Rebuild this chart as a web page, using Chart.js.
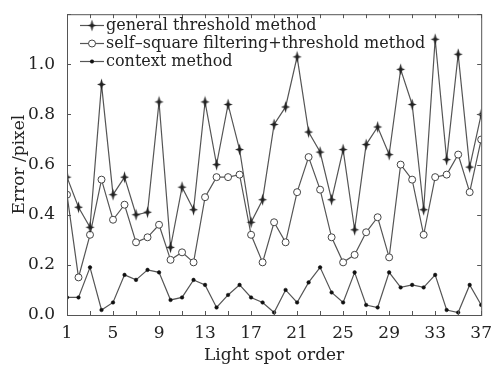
<!DOCTYPE html>
<html>
<head>
<meta charset="utf-8">
<script src="https://cdn.jsdelivr.net/npm/chart.js@4.4.0/dist/chart.umd.min.js"></script>
<style>
html,body{margin:0;padding:0;background:#fff;}
#wrap{width:492px;height:366px;position:relative;}
</style>
</head>
<body>
<div id="wrap"><canvas id="c" width="492" height="366"></canvas></div>
<script>
const spotOrder = Array.from({length: 37}, (_, i) => i + 1);
const generalThreshold = [0.55,0.43,0.35,0.92,0.48,0.55,0.40,0.41,0.85,0.27,0.51,0.42,0.85,0.60,0.84,0.66,0.37,0.46,0.76,0.83,1.03,0.73,0.65,0.46,0.66,0.34,0.68,0.75,0.64,0.98,0.84,0.42,1.10,0.62,1.04,0.59,0.80];
const selfSquare = [0.48,0.15,0.32,0.54,0.38,0.44,0.29,0.31,0.36,0.22,0.25,0.21,0.47,0.55,0.55,0.56,0.32,0.21,0.37,0.29,0.49,0.63,0.50,0.31,0.21,0.24,0.33,0.39,0.23,0.60,0.54,0.32,0.55,0.56,0.64,0.49,0.70];
const contextMethod = [0.07,0.07,0.19,0.02,0.05,0.16,0.14,0.18,0.17,0.06,0.07,0.14,0.12,0.03,0.08,0.12,0.07,0.05,0.01,0.10,0.05,0.13,0.19,0.09,0.05,0.17,0.04,0.03,0.17,0.11,0.12,0.11,0.16,0.02,0.01,0.12,0.04];
const seriesLabels = ["general threshold method","self\u2013square filtering+threshold method","context method"];
const xTickLabels = [1,5,9,13,17,21,25,29,33,37];
const yTickLabels = [0.0,0.2,0.4,0.6,0.8,1.0];

const FONT = "'DejaVu Serif', serif";
const LINE = '#555';

// 4-pointed star marker
function makeStar(){
  const cv = document.createElement('canvas');
  cv.width = 11; cv.height = 13;
  const g = cv.getContext('2d');
  g.fillStyle = '#222';
  g.beginPath();
  const cx = 5.5, cy = 6.5;
  g.moveTo(cx, cy-6); g.lineTo(cx+1.3, cy-1.3); g.lineTo(cx+4.5, cy);
  g.lineTo(cx+1.3, cy+1.3); g.lineTo(cx, cy+6); g.lineTo(cx-1.3, cy+1.3);
  g.lineTo(cx-4.5, cy); g.lineTo(cx-1.3, cy-1.3); g.closePath();
  g.fill();
  return cv;
}
const star = makeStar();

const mk = (data) => spotOrder.map((x, i) => ({x, y: data[i]}));

const frameTicks = {
  id: 'frameTicks',
  afterDraw(chart){
    const {ctx, chartArea: a, scales: {x, y}} = chart;
    ctx.save();
    ctx.strokeStyle = '#555';
    ctx.lineWidth = 1;
    ctx.strokeRect(a.left+0.5, a.top+0.5, a.right-a.left, a.bottom-a.top);
    ctx.beginPath();
    for (let v = 1; v <= 37; v += 2){
      const px = Math.round(x.getPixelForValue(v)) + 0.5;
      ctx.moveTo(px, a.bottom); ctx.lineTo(px, a.bottom-4);
      ctx.moveTo(px, a.top); ctx.lineTo(px, a.top+4);
    }
    for (let v = 0; v <= 1.2001; v += 0.2){
      const py = Math.round(y.getPixelForValue(v)) + 0.5;
      ctx.moveTo(a.left, py); ctx.lineTo(a.left+4, py);
      ctx.moveTo(a.right, py); ctx.lineTo(a.right-4, py);
    }
    ctx.stroke();

    // legend inside plot
    const rows = [25, 43, 61];
    chart.data.datasets.forEach((ds, i) => {
      const yy = rows[i];
      ctx.strokeStyle = LINE; ctx.lineWidth = 1.2;
      ctx.beginPath(); ctx.moveTo(80, yy+0.5); ctx.lineTo(104, yy+0.5); ctx.stroke();
      ctx.fillStyle = ds.pointBackgroundColor;
      ctx.strokeStyle = ds.pointBorderColor;
      ctx.lineWidth = ds.pointBorderWidth;
      Chart.helpers.drawPoint(ctx, {
        pointStyle: ds.pointStyle, radius: ds.pointRadius, rotation: 0, borderWidth: ds.pointBorderWidth
      }, 92, yy+0.5);
      ctx.fillStyle = '#222';
      ctx.font = "16px " + FONT;
      ctx.textBaseline = 'middle';
      ctx.textAlign = 'left';
      ctx.fillText(ds.label, 106, yy+1);
    });
    ctx.restore();
  }
};

new Chart(document.getElementById('c'), {
  type: 'line',
  data: {
    datasets: [
      {label: seriesLabels[0], data: mk(generalThreshold), borderColor: LINE, borderWidth: 1.2,
       pointStyle: star, pointRadius: 5, pointBorderWidth: 1, pointBackgroundColor: '#222', pointBorderColor: '#222'},
      {label: seriesLabels[1], data: mk(selfSquare), borderColor: LINE, borderWidth: 1.2,
       pointStyle: 'circle', pointRadius: 3.5, pointBorderWidth: 1, pointBackgroundColor: '#fff', pointBorderColor: '#444'},
      {label: seriesLabels[2], data: mk(contextMethod), borderColor: LINE, borderWidth: 1.2,
       pointStyle: 'circle', pointRadius: 1.8, pointBorderWidth: 0.5, pointBackgroundColor: '#111', pointBorderColor: '#111'}
    ]
  },
  options: {
    responsive: false,
    animation: false,
    layout: {padding: {top: 10, right: 10, left: 9, bottom: 0}},
    plugins: {legend: {display: false}, tooltip: {enabled: false}},
    scales: {
      x: {
        type: 'linear', min: 1, max: 37,
        afterBuildTicks: (s) => { s.ticks = xTickLabels.map(v => ({value: v})); },
        grid: {display: false}, border: {display: false},
        ticks: {color: '#222', font: {family: FONT, size: 17}, padding: 0, maxRotation: 0},
        title: {display: true, text: 'Light spot order', color: '#222', font: {family: FONT, size: 17}, padding: {top: -2, bottom: 0}},
        afterFit: (s) => { s.height = 51; }
      },
      y: {
        min: 0, max: 1.2,
        afterBuildTicks: (s) => { s.ticks = yTickLabels.map(v => ({value: v})); },
        grid: {display: false}, border: {display: false},
        ticks: {color: '#222', font: {family: FONT, size: 17}, padding: 4, callback: (v) => Number(v).toFixed(1)},
        title: {display: true, text: 'Error /pixel', color: '#222', font: {family: FONT, size: 17}, padding: {top: 0, bottom: 0}},
        afterFit: (s) => { s.width = 58; }
      }
    }
  },
  plugins: [frameTicks]
});
</script>
</body>
</html>
